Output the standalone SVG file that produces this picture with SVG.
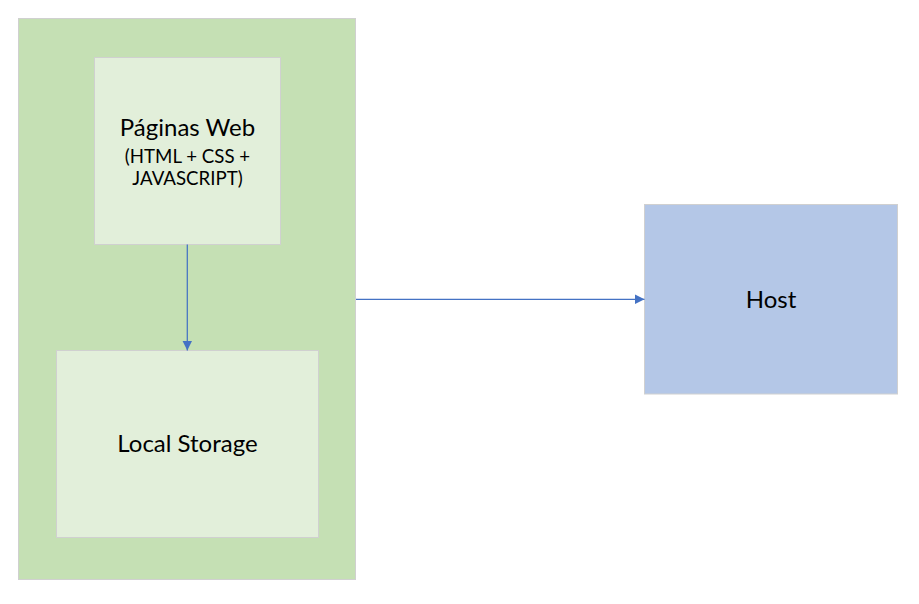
<svg xmlns="http://www.w3.org/2000/svg" width="919" height="604" viewBox="0 0 919 604">
<style>
.box{stroke:#D0D0D0;stroke-width:1}
.t{font-family:Lato,"Liberation Sans",sans-serif;fill:#000;text-anchor:middle}
.big{font-size:24px}
.small{font-size:18.67px}
.conn{stroke:#4472C4;stroke-width:1.25;fill:none}
</style>
<defs>
<marker id="ah" viewBox="0 0 10 10" refX="10" refY="5" markerWidth="10" markerHeight="10" markerUnits="userSpaceOnUse" orient="auto">
<path d="M0,0 L10,5 L0,10 Z" fill="#4472C4"/>
</marker>
</defs>
<rect width="919" height="604" fill="#FFFFFF"/>
<g id="browser">
<rect class="box" x="18.5" y="18.5" width="337" height="561" fill="#C5E0B4"/>
</g>
<g id="paginas-web">
<rect class="box" x="94.5" y="57.5" width="186" height="187" fill="#E2EFDA"/>
<text class="t big" x="187.5" y="136">Páginas Web</text>
<text class="t small" x="187.5" y="163">(HTML + CSS +</text>
<text class="t small" x="187.5" y="185">JAVASCRIPT)</text>
</g>
<g id="local-storage">
<rect class="box" x="56.5" y="350.5" width="262" height="187" fill="#E2EFDA"/>
<text class="t big" x="187.5" y="452">Local Storage</text>
</g>
<g id="host">
<rect class="box" x="644.5" y="204.5" width="253" height="189.5" fill="#B4C7E7"/>
<text class="t big" x="771" y="308">Host</text>
</g>
<g id="connectors">
<line class="conn" x1="187.3" y1="244.5" x2="187.3" y2="350.5" marker-end="url(#ah)"/>
<line class="conn" x1="356" y1="299.3" x2="644.5" y2="299.3" marker-end="url(#ah)"/>
</g>
</svg>
